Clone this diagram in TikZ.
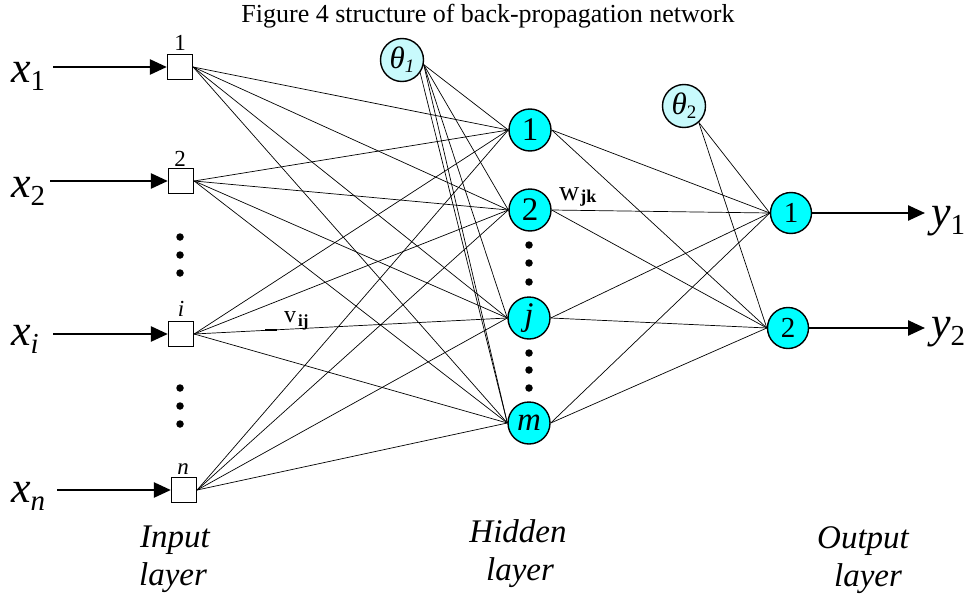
\documentclass[tikz,border=0pt]{standalone}
\usepackage{fontspec}
\setmainfont{Liberation Serif}
\usetikzlibrary{arrows.meta}
\definecolor{hid}{RGB}{0,255,255}
\definecolor{thf}{RGB}{200,250,252}
\newcommand{\mylabx}[2]{{\fontsize{44}{44}\selectfont\itshape #1}\raisebox{-8pt}{\fontsize{29}{29}\selectfont #2}}
\newcommand{\mytheta}[1]{{\fontsize{31}{31}\selectfont\itshape θ}\raisebox{-4pt}{\fontsize{19}{19}\selectfont #1}}
\begin{document}
\begin{tikzpicture}[x=1pt,y=-1pt,
 ibox/.style={draw,line width=1.3pt,minimum size=25pt,inner sep=0pt,fill=white},
 hnode/.style={circle,draw,line width=1.4pt,fill=hid,minimum size=42pt,inner sep=0pt,font=\fontsize{33}{33}\selectfont},
 onode/.style={hnode,minimum size=41pt,font=\fontsize{29}{29}\selectfont},
 tnode/.style={circle,draw,line width=1.4pt,fill=thf,minimum size=43pt,inner sep=0pt},
 conn/.style={line width=0.7pt},
 bigarrow/.style={line width=2.5pt,-{Triangle[length=17pt,width=15pt]}},
 dotn/.style={circle,fill=black,minimum size=7.5pt,inner sep=0pt},
 toplbl/.style={anchor=base,inner sep=0pt,font=\fontsize{23}{23}\selectfont},
 layerlbl/.style={anchor=base,inner sep=0pt,font=\fontsize{33}{33}\selectfont\itshape},
 varlbl/.style={anchor=base west,inner sep=0pt},
]
\useasboundingbox (0,0) rectangle (966,594);

% title
\node[anchor=base,inner sep=0pt,font=\fontsize{26}{26}\selectfont] (title) at (488,23) {Figure 4 structure of back-propagation network};

% input boxes
\node[ibox] (i1) at (180,67) {};
\node[ibox] (i2) at (181,181) {};
\node[ibox] (ii) at (181,334) {};
\node[ibox] (in) at (184,490) {};
\node[toplbl] (l1) at (180,51) {1};
\node[toplbl] (l2) at (180,166) {2};
\node[toplbl] (li) at (181,316) {\itshape i};
\node[toplbl] (ln) at (183,474) {\itshape n};

% input labels
\node[varlbl] (x1) at (11,82) {\mylabx{x}{1}};
\node[varlbl] (x2) at (11,197) {\mylabx{x}{2}};
\node[varlbl] (xi) at (11,345) {\mylabx{x}{\itshape i}};
\node[varlbl] (xn) at (11,502) {\mylabx{x}{\itshape n}};

\coordinate (s1) at (53,67);
\coordinate (s2) at (50,181);
\coordinate (si) at (53,334);
\coordinate (sn) at (57,490);
\draw[bigarrow] (s1) -- (i1.west);
\draw[bigarrow] (s2) -- (i2.west);
\draw[bigarrow] (si) -- (ii.west);
\draw[bigarrow] (sn) -- (in.west);

% input dots
\foreach \y [count=\k] in {237,255,273,388,406,424} \node[dotn] (idot\k) at (180,\y) {};

% hidden nodes
\node[hnode] (h1) at (530,130) {1};
\node[hnode] (h2) at (530,210) {2};
\node[hnode] (hj) at (529,318) {\itshape j};
\node[hnode] (hm) at (529,423) {\itshape m};
\foreach \y [count=\k] in {245,263,282,353,370,388} \node[dotn] (hdot\k) at (529,\y) {};

% thresholds
\node[tnode] (t1) at (402,60) {\mytheta{\itshape 1}};
\node[tnode] (t2) at (684,106) {\mytheta{2}};

% output nodes
\node[onode] (o1) at (791,213) {1};
\node[onode] (o2) at (788,328) {2};
\coordinate (e1) at (925,213);
\coordinate (e2) at (925,328);
\draw[bigarrow] (o1.east) -- (e1);
\draw[bigarrow] (o2.east) -- (e2);
\node[varlbl] (y1) at (931,226) {\mylabx{y}{1}};
\node[varlbl] (y2) at (931,337) {\mylabx{y}{2}};

% connections
\foreach \a in {i1,i2,ii,in}
  \foreach \b in {h1,h2,hj,hm}
    \draw[conn] (\a.east) -- (\b.west);
\foreach \b in {h1,h2,hj,hm}
  \draw[conn] (t1.-12) -- (\b.west);
\draw[conn] (t1.-35) -- (hm.west);
\foreach \a in {h1,h2,hj,hm}
  \foreach \b in {o1,o2}
    \draw[conn] (\a.east) -- (\b.west);
\foreach \b in {o1,o2}
  \draw[conn] (t2.-48) -- (\b.west);
\draw[line width=1.8pt] (265,330) -- (277,330);

% weight labels
\node[varlbl] (vij) at (284,322) {{\fontsize{24}{24}\selectfont v}\hspace{2pt}\raisebox{-4pt}{\fontsize{17}{17}\selectfont\bfseries ij}};
\node[varlbl] (wjk) at (559,200) {{\fontsize{28}{28}\selectfont w}\hspace{1pt}\raisebox{-2pt}{\fontsize{18}{18}\selectfont\bfseries jk}};

% layer labels
\node[layerlbl] (inA) at (175,547) {Input};
\node[layerlbl] (inB) at (173,585) {layer};
\node[layerlbl] (hiA) at (518,542) {Hidden};
\node[layerlbl] (hiB) at (520,580) {layer};
\node[layerlbl] (ouA) at (863,548) {Output};
\node[layerlbl] (ouB) at (868,586) {layer};
\end{tikzpicture}
\end{document}
